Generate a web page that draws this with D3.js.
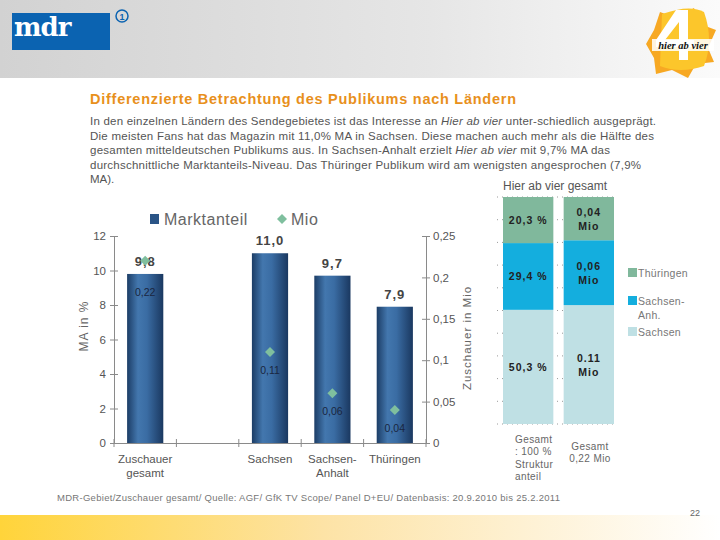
<!DOCTYPE html>
<html><head><meta charset="utf-8">
<script src="https://cdn.jsdelivr.net/npm/d3@7"></script>
<style>
body{margin:0;background:#fff;}
svg{display:block;font-family:"Liberation Sans",Arial,sans-serif;}
</style></head>
<body>
<svg id="c" width="720" height="540"></svg>
<script>
// ---- data ----
const categories = ["Zuschauer gesamt", "", "Sachsen", "Sachsen-Anhalt", "Thüringen"];
const categoryLines = [["Zuschauer","gesamt"], [], ["Sachsen"], ["Sachsen-","Anhalt"], ["Thüringen"]];
const marktanteil = [9.8, null, 11.0, 9.7, 7.9];
const mio = [0.22, null, 0.11, 0.06, 0.04];
const marktanteilLabels = ["9,8", "", "11,0", "9,7", "7,9"];
const mioLabels = ["0,22", "", "0,11", "0,06", "0,04"];
const leftTicks = [0, 2, 4, 6, 8, 10, 12];
const rightTicks = [0, 0.05, 0.1, 0.15, 0.2, 0.25];
const rightTickLabels = ["0", "0,05", "0,1", "0,15", "0,2", "0,25"];

const stackColumns = ["struktur", "mio"];
const stackKeys = ["Sachsen", "Sachsen-Anhalt", "Thüringen"];
const strukturValues = [50.3, 29.4, 20.3];
const mioValues = [0.11, 0.06, 0.04];
const strukturLabels = ["50,3 %", "29,4 %", "20,3 %"];
const mioStackLabels = [["0.11","Mio"], ["0,06","Mio"], ["0,04","Mio"]];
const stackLegend = [["Thüringen"], ["Sachsen-","Anh."], ["Sachsen"]];

const svg = d3.select("#c");
const defs = svg.append("defs");

// ---- header / footer decoration ----
const hg = defs.append("linearGradient").attr("id","hdr").attr("x1","0").attr("x2","1");
hg.append("stop").attr("offset","0").attr("stop-color","#d2d2d2");
hg.append("stop").attr("offset","0.6").attr("stop-color","#e6e6e6");
hg.append("stop").attr("offset","1").attr("stop-color","#fbfbfb");
svg.append("rect").attr("x",0).attr("y",0).attr("width",720).attr("height",78).attr("fill","url(#hdr)");

const fg = defs.append("linearGradient").attr("id","ftr").attr("x1","0").attr("x2","1");
fg.append("stop").attr("offset","0").attr("stop-color","#ffd43a");
fg.append("stop").attr("offset","0.45").attr("stop-color","#fde3a6");
fg.append("stop").attr("offset","1").attr("stop-color","#ffffff");
svg.append("rect").attr("x",0).attr("y",515).attr("width",720).attr("height",25).attr("fill","url(#ftr)");

// mdr logo
svg.append("rect").attr("x",12).attr("y",13).attr("width",98).attr("height",37).attr("fill","#0b63b1");
svg.append("text").attr("x",14).attr("y",36).attr("fill","#fff")
  .attr("font-family","DejaVu Serif").attr("font-size",26).attr("font-weight","bold").attr("letter-spacing",-1).text("mdr");
svg.append("circle").attr("cx",122).attr("cy",16).attr("r",6).attr("fill","none").attr("stroke","#0b63b1").attr("stroke-width",1.5);
svg.append("text").attr("x",122).attr("y",19.5).attr("text-anchor","middle").attr("font-size",9).attr("font-weight","bold").attr("fill","#0b63b1").text("1");

// hier ab vier logo
const lg = svg.append("g");
lg.append("polygon").attr("points","660,12 676,18 694,8 700,24 716,30 708,48 714,62 696,64 688,78 672,70 656,74 654,58 646,44 654,30")
  .attr("fill","#f7a823");
lg.append("path").attr("d","M662,14 Q690,4 704,12 Q714,40 704,66 Q680,74 660,66 Z").attr("fill","#fcc62b");
// white "4" shape
lg.append("path").attr("d","M676,10 L688,10 L688,40 L694,40 L694,47 L688,47 L688,60 L679,60 L679,47 L656,47 L656,40 Z M679,22 L665,40 L679,40 Z")
  .attr("fill","#fff").attr("fill-rule","evenodd");
lg.append("rect").attr("x",652).attr("y",39).attr("width",62).attr("height",12).attr("fill","#fff").attr("opacity",0.85);
lg.append("text").attr("x",683).attr("y",48.5).attr("text-anchor","middle").attr("font-size",10.5).attr("font-weight","bold")
  .attr("font-style","italic").attr("fill","#111").attr("font-family","Liberation Serif").text("hier ab vier");

// ---- title and paragraph ----
svg.append("text").attr("x",90).attr("y",104).attr("font-size",14.5).attr("font-weight","bold").attr("fill","#e8901c")
  .attr("textLength",426).attr("lengthAdjust","spacing")
  .text("Differenzierte Betrachtung des Publikums nach Ländern");

const para = [
  {parts:[["In den einzelnen Ländern des Sendegebietes ist das Interesse an ",0],["Hier ab vier",1],[" unter-schiedlich ausgeprägt.",0]], w:566},
  {parts:[["Die meisten Fans hat das Magazin mit 11,0% MA in Sachsen. Diese machen auch mehr als die Hälfte des",0]], w:564},
  {parts:[["gesamten mitteldeutschen Publikums aus. In Sachsen-Anhalt erzielt ",0],["Hier ab vier",1],[" mit 9,7% MA das",0]], w:520},
  {parts:[["durchschnittliche Marktanteils-Niveau. Das Thüringer Publikum wird am wenigsten angesprochen (7,9%",0]], w:551},
  {parts:[["MA).",0]], w:null}
];
para.forEach((ln,i)=>{
  const t = svg.append("text").attr("x",90).attr("y",125 + i*14.5).attr("font-size",11.5).attr("fill","#555");
  if(ln.w){ t.attr("textLength",ln.w).attr("lengthAdjust","spacing"); }
  ln.parts.forEach(p=>{ t.append("tspan").attr("font-style",p[1]?"italic":"normal").text(p[0]); });
});

// ---- left combo chart ----
const x = d3.scaleBand().domain(categories).range([114,426]).padding(0);
const yL = d3.scaleLinear().domain([0,12]).range([443,236]);
const yR = d3.scaleLinear().domain([0,0.25]).range([443,236]);
const barW = x.bandwidth()*0.58;

const bg = defs.append("linearGradient").attr("id","bar").attr("x1","0").attr("x2","1");
[["0","#1c3d66"],["0.3","#4377ae"],["0.55","#3a6ca3"],["1","#1a3860"]].forEach(s=>bg.append("stop").attr("offset",s[0]).attr("stop-color",s[1]));

const axisColor = "#8a8a8a";
const tickText = "#555";

// left axis
const gl = svg.append("g").attr("transform","translate(114,0)")
  .call(d3.axisLeft(yL).tickValues(leftTicks).tickSize(4).tickFormat(d=>String(d)));
gl.attr("font-family",null);
gl.select(".domain").attr("stroke",axisColor);
gl.selectAll(".tick line").attr("stroke",axisColor).attr("x2",4).attr("x1",-4);
gl.selectAll(".tick text").attr("fill",tickText).attr("font-size",11.5).attr("x",-8);

// right axis
const gr = svg.append("g").attr("transform","translate(426,0)")
  .call(d3.axisRight(yR).tickValues(rightTicks).tickSize(4).tickFormat((d,i)=>rightTickLabels[i]));
gr.attr("font-family",null);
gr.select(".domain").attr("stroke",axisColor);
gr.selectAll(".tick line").attr("stroke",axisColor).attr("x1",-4).attr("x2",4);
gr.selectAll(".tick text").attr("fill",tickText).attr("font-size",11.5).attr("x",7);

// x axis
const gx = svg.append("g").attr("transform","translate(0,443)")
  .call(d3.axisBottom(x).tickSize(0).tickFormat(""));
gx.select(".domain").attr("stroke",axisColor);
gx.selectAll(".tick").remove();
const bounds = categories.map(c=>x(c)).concat([x(categories[categories.length-1])+x.bandwidth()]);
gx.selectAll("line.sep").data(bounds).join("line").attr("class","sep")
  .attr("x1",d=>d).attr("x2",d=>d).attr("y1",-4).attr("y2",4).attr("stroke",axisColor);

// category labels
categories.forEach((c,i)=>{
  const t = svg.append("text").attr("x",x(c)+x.bandwidth()/2).attr("y",463).attr("text-anchor","middle")
    .attr("font-size",11.5).attr("fill","#555");
  categoryLines[i].forEach((l,j)=>t.append("tspan").attr("x",x(c)+x.bandwidth()/2).attr("dy",j?14:0).text(l));
});

// bars
const barData = categories.map((c,i)=>({c, v:marktanteil[i], lab:marktanteilLabels[i], m:mio[i], ml:mioLabels[i]})).filter(d=>d.v!=null);
svg.selectAll("rect.bar").data(barData).join("rect").attr("class","bar")
  .attr("x",d=>x(d.c)+x.bandwidth()/2-barW/2).attr("width",barW)
  .attr("y",d=>yL(d.v)).attr("height",d=>yL(0)-yL(d.v)).attr("fill","url(#bar)");

svg.selectAll("text.blab").data(barData).join("text").attr("class","blab")
  .attr("x",d=>x(d.c)+x.bandwidth()/2).attr("y",d=>yL(d.v)-8).attr("text-anchor","middle")
  .attr("font-size",13).attr("font-weight","bold").attr("letter-spacing",1).attr("fill","#444").text(d=>d.lab);

// diamonds
const diamond = d3.symbol().type(d3.symbolSquare).size(50);
svg.selectAll("path.dia").data(barData).join("path").attr("class","dia")
  .attr("d",diamond).attr("fill","#7fbf9e")
  .attr("transform",d=>`translate(${x(d.c)+x.bandwidth()/2},${yR(d.m)}) rotate(45)`);

svg.selectAll("text.mlab").data(barData).join("text").attr("class","mlab")
  .attr("x",d=>x(d.c)+x.bandwidth()/2).attr("y",(d,i)=> i===0 ? yR(d.m)+35 : yR(d.m)+22).attr("text-anchor","middle")
  .attr("font-size",10.5).attr("fill","#1a2640").text(d=>d.ml);

// legend
svg.append("rect").attr("x",150).attr("y",214).attr("width",9).attr("height",10).attr("fill","#2a5486");
svg.append("text").attr("x",164).attr("y",225).attr("font-size",16).attr("fill","#666").attr("letter-spacing",0.5).text("Marktanteil");
svg.append("path").attr("d",diamond).attr("fill","#7fbf9e").attr("transform","translate(282,219) rotate(45)");
svg.append("text").attr("x",291).attr("y",225).attr("font-size",16).attr("fill","#666").attr("letter-spacing",0.5).text("Mio");

// axis titles
svg.append("text").attr("transform","translate(88,326) rotate(-90)").attr("text-anchor","middle")
  .attr("font-size",12).attr("fill","#666").attr("letter-spacing",1).text("MA in %");
svg.append("text").attr("transform","translate(471,338) rotate(-90)").attr("text-anchor","middle")
  .attr("font-size",11.5).attr("fill","#666").attr("letter-spacing",1).text("Zuschauer in Mio");

// ---- right stacked chart ----
svg.append("text").attr("x",503).attr("y",190).attr("font-size",12).attr("fill","#555")
  .attr("textLength",104).attr("lengthAdjust","spacing").text("Hier ab vier gesamt");

const stackRows = stackColumns.map((col,ci)=>{
  const vals = ci===0 ? strukturValues : mioValues;
  const o = {col}; stackKeys.forEach((k,i)=>o[k]=vals[i]); return o;
});
const series = d3.stack().keys(stackKeys).offset(d3.stackOffsetExpand)(stackRows);
const xs = d3.scaleBand().domain(stackColumns).range([503,614]).paddingInner(0.17).paddingOuter(0);
const ys = d3.scaleLinear().domain([0,1]).range([424,197]);
const stackColors = {"Sachsen":"#bfe0e4","Sachsen-Anhalt":"#14aede","Thüringen":"#80b89c"};

// dotted grid
const gridVals = d3.range(0,1.0001,0.1);
svg.selectAll("line.sg").data(gridVals).join("line").attr("class","sg")
  .attr("x1",497).attr("x2",617).attr("y1",d=>ys(d)).attr("y2",d=>ys(d))
  .attr("stroke","#9a9a9a").attr("stroke-dasharray","1,4");

const sg = svg.selectAll("g.ser").data(series).join("g").attr("class","ser").attr("fill",d=>stackColors[d.key]);
sg.selectAll("rect").data(d=>d).join("rect")
  .attr("x",d=>xs(d.data.col)).attr("width",xs.bandwidth())
  .attr("y",d=>ys(d[1])).attr("height",d=>ys(d[0])-ys(d[1]));

series.forEach((s,si)=>{
  s.forEach((d,ci)=>{
    const cx = xs(d.data.col)+xs.bandwidth()/2;
    const cy = (ys(d[0])+ys(d[1]))/2;
    if(ci===0){
      svg.append("text").attr("x",cx).attr("y",cy+4).attr("text-anchor","middle").attr("font-size",10.5)
        .attr("font-weight","bold").attr("letter-spacing",1).attr("fill","#222").text(strukturLabels[si]);
    } else {
      const t = svg.append("text").attr("text-anchor","middle").attr("font-size",10.5).attr("font-weight","bold")
        .attr("letter-spacing",1).attr("fill","#222");
      mioStackLabels[si].forEach((l,j)=>t.append("tspan").attr("x",cx).attr("y",cy-3+j*14).text(l));
    }
  });
});

// stack legend
const legendKeys = ["Thüringen","Sachsen-Anhalt","Sachsen"];
const legY = [268, 296, 327];
legendKeys.forEach((k,i)=>{
  svg.append("rect").attr("x",628).attr("y",legY[i]).attr("width",9).attr("height",9).attr("fill",stackColors[k]);
  const t = svg.append("text").attr("font-size",10.5).attr("fill","#777").attr("letter-spacing",0.3);
  stackLegend[i].forEach((l,j)=>t.append("tspan").attr("x",638).attr("y",legY[i]+9+j*14).text(l));
});

// column captions
const cap1 = ["Gesamt", ": 100 %", "Struktur", "anteil"];
const t1 = svg.append("text").attr("font-size",10).attr("fill","#666").attr("letter-spacing",0.4);
cap1.forEach((l,j)=>t1.append("tspan").attr("x",515).attr("y",443+j*12.3).text(l));
const cap2 = ["Gesamt", "0,22 Mio"];
const t2 = svg.append("text").attr("font-size",10).attr("fill","#666").attr("text-anchor","middle").attr("letter-spacing",0.4);
cap2.forEach((l,j)=>t2.append("tspan").attr("x",590).attr("y",450+j*12).text(l));

// ---- footer ----
svg.append("text").attr("x",57).attr("y",501).attr("font-size",9.5).attr("fill","#777")
  .attr("textLength",503).attr("lengthAdjust","spacing")
  .text("MDR-Gebiet/Zuschauer gesamt/ Quelle: AGF/ GfK TV Scope/ Panel D+EU/ Datenbasis: 20.9.2010 bis 25.2.2011");
svg.append("text").attr("x",700).attr("y",516).attr("text-anchor","end").attr("font-size",9).attr("fill","#666").text("22");
</script>
</body></html>
